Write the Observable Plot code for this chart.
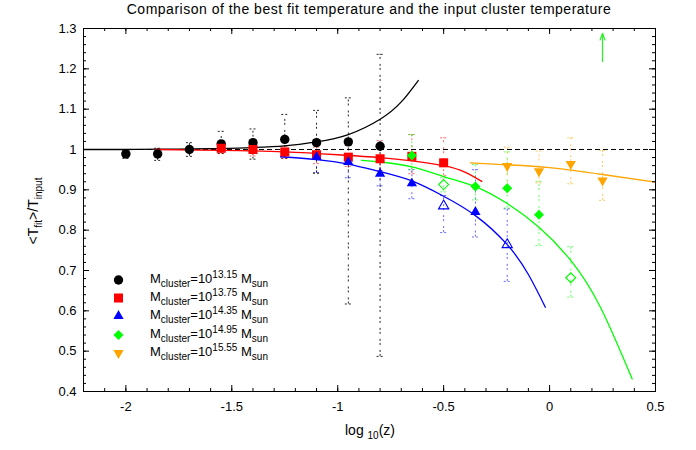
<!DOCTYPE html>
<html><head><meta charset="utf-8">
<script src="https://cdn.jsdelivr.net/npm/d3@7"></script>
<script src="https://cdn.jsdelivr.net/npm/@observablehq/plot@0.6"></script>
<style>
body{margin:0;background:#fff;font-family:"Liberation Sans",Arial,sans-serif;}
#wrap{position:relative;width:696px;height:450px;overflow:hidden;}
#wrap > svg{position:absolute;left:0;top:0;}
.ov{position:absolute;font-size:13px;color:#000;white-space:nowrap;line-height:1;}
.ov sub,.ov sup{font-size:10px;line-height:0;}
.row{position:absolute;left:0;height:14px;}
.row svg{position:absolute;left:0;top:0;}
.row span{position:absolute;top:0;font-size:13px;}
</style></head><body>
<div id="wrap"></div>
<script>
// ---- data ----
const masses = ["13.15", "13.75", "14.35", "14.95", "15.55"];
const colors = ["#000000", "#ff0000", "#0000ff", "#00ff00", "#ffa500"];

// series 0 : M = 10^13.15
const x0 = [-2, -1.85, -1.7, -1.55, -1.4, -1.25, -1.1, -0.95, -0.8];
const y0 = [0.989, 0.989, 1.0, 1.014, 1.017, 1.025, 1.017, 1.019, 1.008];
const lo0 = [0.978, 0.973, 0.983, 0.99, 0.976, 0.978, 0.941, 0.617, 0.487];
const hi0 = [0.998, 1.003, 1.017, 1.045, 1.051, 1.087, 1.097, 1.128, 1.236];
const open0 = [0, 0, 0, 0, 0, 0, 0, 0, 0];
// series 1 : M = 10^13.75
const x1 = [-1.55, -1.4, -1.25, -1.1, -0.95, -0.8, -0.65, -0.5];
const y1 = [1.003, 1.0, 0.994, 0.987, 0.981, 0.977, 0.983, 0.967];
const lo1 = [0.99, 0.984, 0.978, 0.965, 0.958, 0.948, 0.94, 0.935];
const hi1 = [1.015, 1.014, 1.008, 1.006, 1.01, 1.022, 1.037, 1.029];
const open1 = [0, 0, 0, 0, 0, 0, 0, 0];
// series 2 : M = 10^14.35
const x2 = [-1.1, -0.95, -0.8, -0.65, -0.5, -0.35, -0.2];
const y2 = [0.981, 0.969, 0.94, 0.916, 0.86, 0.845, 0.764];
const lo2 = [0.943, 0.93, 0.91, 0.878, 0.794, 0.783, 0.673];
const hi2 = [0.995, 0.99, 0.975, 0.95, 0.886, 0.95, 0.853];
const open2 = [0, 0, 0, 0, 1, 0, 1];
// series 3 : M = 10^14.95
const x3 = [-0.65, -0.5, -0.35, -0.2, -0.05, 0.1];
const y3 = [0.985, 0.913, 0.908, 0.904, 0.838, 0.682];
const lo3 = [0.95, 0.895, 0.875, 0.855, 0.762, 0.634];
const hi3 = [1.037, 0.93, 0.963, 0.994, 0.921, 0.759];
const open3 = [0, 1, 0, 0, 0, 1];
// series 4 : M = 10^15.55
const x4 = [-0.2, -0.05, 0.1, 0.25];
const y4 = [0.959, 0.946, 0.964, 0.923];
const lo4 = [0.907, 0.917, 0.915, 0.874];
const hi4 = [1.006, 0.996, 1.029, 0.998];
const open4 = [0, 0, 0, 0];

// fitted curves
const fitX0 = [-2.2, -2.0, -1.8, -1.6, -1.4, -1.25, -1.1, -0.95, -0.8, -0.7, -0.62];
const fitY0 = [1.0, 1.0, 1.001, 1.002, 1.005, 1.009, 1.019, 1.037, 1.075, 1.118, 1.171];
const fitX1 = [-1.86, -1.55, -1.25, -1.0, -0.8, -0.65, -0.5, -0.4, -0.32];
const fitY1 = [1.0, 0.998, 0.994, 0.987, 0.98, 0.972, 0.96, 0.944, 0.921];
const fitX2 = [-1.27, -1.1, -0.95, -0.8, -0.65, -0.5, -0.35, -0.2, -0.1, -0.02];
const fitY2 = [0.982, 0.975, 0.964, 0.945, 0.922, 0.884, 0.836, 0.764, 0.69, 0.609];
const fitX3 = [-0.887, -0.8, -0.65, -0.5, -0.35, -0.2, -0.05, 0.1, 0.24, 0.39];
const fitY3 = [0.973, 0.969, 0.957, 0.933, 0.908, 0.866, 0.807, 0.725, 0.609, 0.431];
const fitX4 = [-0.374, -0.2, 0, 0.25, 0.5];
const fitY4 = [0.967, 0.962, 0.955, 0.938, 0.919];

// arrow
const arrowX = [0.25];
const arrowFrom = [1.218];
const arrowTo = [1.288];

// axes
const xTicks = [-2, -1.5, -1, -0.5, 0, 0.5];
const yTicks = [0.4, 0.5, 0.6, 0.7, 0.8, 0.9, 1, 1.1, 1.2, 1.3];
const xDomain = [-2.2, 0.5];
const yDomain = [0.4, 1.3];
const refLine = [1];

// ---- build tables ----
const SX = [x0, x1, x2, x3, x4], SY = [y0, y1, y2, y3, y4], SL = [lo0, lo1, lo2, lo3, lo4],
      SH = [hi0, hi1, hi2, hi3, hi4], SO = [open0, open1, open2, open3, open4];
const points = [];
SX.forEach((xs, s) => xs.forEach((x, i) => points.push({s, x, y: SY[s][i], lo: SL[s][i], hi: SH[s][i], open: !!SO[s][i]})));
const FX = [fitX0, fitX1, fitX2, fitX3, fitX4], FY = [fitY0, fitY1, fitY2, fitY3, fitY4];
const fits = [];
FX.forEach((xs, s) => xs.forEach((x, i) => fits.push({s, x, y: FY[s][i]})));
const arrows = arrowX.map((x, i) => ({x, y1: arrowFrom[i], y2: arrowTo[i]}));

const W = 696, H = 450, mL = 83, mR = 41, mT = 28, mB = 59;
const kx = (W - mL - mR) / (xDomain[1] - xDomain[0]);
const ky = (H - mT - mB) / (yDomain[1] - yDomain[0]);
const xMinor = d3.range(Math.round(xDomain[0] * 10), Math.round(xDomain[1] * 10) + 1).map(i => i / 10);
const yMinor = d3.range(Math.round(yDomain[0] * 50), Math.round(yDomain[1] * 50) + 1).map(i => i / 50);

const triDown = {
  draw(ctx, size) {
    const y = -Math.sqrt(size / (Math.sqrt(3) * 3));
    ctx.moveTo(0, -y * 2);
    ctx.lineTo(-Math.sqrt(3) * y, y);
    ctx.lineTo(Math.sqrt(3) * y, y);
    ctx.closePath();
  }
};
const symbols = [d3.symbolCircle, d3.symbolSquare, d3.symbolTriangle, d3.symbolDiamond2, triDown];
const radii = [4.7, 5.1, 3.8, 4.5, 3.8];
const barOpacity = [0.85, 0.6, 0.6, 0.6, 0.6];

const tickMarks = (len, xs, ys) => [
  Plot.ruleX(xs, {x: d => d, y1: yDomain[0], y2: yDomain[0] + len / ky, stroke: "#000"}),
  Plot.ruleX(xs, {x: d => d, y1: yDomain[1], y2: yDomain[1] - len / ky, stroke: "#000"}),
  Plot.ruleY(ys, {y: d => d, x1: xDomain[0], x2: xDomain[0] + len / kx, stroke: "#000"}),
  Plot.ruleY(ys, {y: d => d, x1: xDomain[1], x2: xDomain[1] - len / kx, stroke: "#000"})
];

const capHalf = 3 / kx;
const marks = [];
for (let s = 0; s < 5; s++) {
  const pts = points.filter(d => d.s === s);
  const st = {stroke: colors[s], strokeOpacity: barOpacity[s], strokeWidth: 1};
  marks.push(
    Plot.ruleX(pts, {x: "x", y1: "lo", y2: "hi", ...st, strokeDasharray: "2,2,2,5"}),
    Plot.ruleY(pts, {y: "lo", x1: d => d.x - capHalf, x2: d => d.x + capHalf, ...st, strokeDasharray: "2,2"}),
    Plot.ruleY(pts, {y: "hi", x1: d => d.x - capHalf, x2: d => d.x + capHalf, ...st, strokeDasharray: "2,2"})
  );
}
marks.push(
  Plot.ruleY(refLine, {stroke: "#000", strokeDasharray: "5,3", strokeWidth: 1.2}),
  Plot.line(fits, {x: "x", y: "y", z: "s", stroke: d => colors[d.s], curve: "natural", strokeWidth: 1.3}),
  Plot.arrow(arrows, {x1: "x", x2: "x", y1: "y1", y2: "y2", stroke: "#33ee33", strokeWidth: 1.3, headLength: 8, headAngle: 40})
);
for (let s = 0; s < 5; s++) {
  marks.push(Plot.dot(points.filter(d => d.s === s && !d.open), {x: "x", y: "y", symbol: symbols[s], r: radii[s], fill: colors[s], stroke: "none"}));
  marks.push(Plot.dot(points.filter(d => d.s === s && d.open), {x: "x", y: "y", symbol: symbols[s], r: radii[s], fill: "none", stroke: colors[s], strokeWidth: 1.1}));
}
marks.push(...tickMarks(3, xMinor, yMinor), ...tickMarks(6, xTicks, yTicks));
marks.push(Plot.frame({stroke: "#000", strokeWidth: 1}));
marks.push(Plot.axisX(xTicks, {anchor: "bottom", tickSize: 0, tickPadding: 10, tickFormat: d => String(d), fontSize: 13, label: null}));
marks.push(Plot.axisY(yTicks, {anchor: "left", tickSize: 0, tickPadding: 7, tickFormat: d => String(d), fontSize: 13, label: null}));

const chart = Plot.plot({
  width: W, height: H,
  marginLeft: mL, marginRight: mR, marginTop: mT, marginBottom: mB,
  style: {fontFamily: '"Liberation Sans", Arial, sans-serif', fontSize: "13px", color: "#000", background: "#fff"},
  x: {domain: xDomain},
  y: {domain: yDomain},
  marks
});
const wrap = document.getElementById("wrap");
wrap.appendChild(chart);

// overlays
function ov(html, css) {
  const d = document.createElement("div");
  d.className = "ov";
  d.innerHTML = html;
  Object.assign(d.style, css);
  wrap.appendChild(d);
  return d;
}
const title = ov("Comparison of the best fit temperature and the input cluster temperature", {left: "369px", top: "2px", fontSize: "14px", transform: "translateX(-50%)"});
{
  const w = title.getBoundingClientRect().width;
  const n = title.textContent.length;
  title.style.letterSpacing = Math.max(0, (484 - w) / (n - 1)) + "px";
}
ov("log <sub>10</sub>(z)", {left: "370px", top: "423px", fontSize: "14px", transform: "translateX(-50%)"});
ov("&lt;T<sub>fit</sub>&gt;/T<sub>input</sub>", {left: "33px", top: "211px", fontSize: "14px", transform: "translate(-50%,-50%) rotate(-90deg)"});

// legend
const leg = document.createElement("div");
leg.style.cssText = "position:absolute;left:112px;top:273px;";
wrap.appendChild(leg);
masses.forEach((m, i) => {
  const row = document.createElement("div");
  row.className = "row ov";
  row.style.top = (i * 18.2) + "px";
  const size = Math.PI * radii[i] * radii[i];
  const p = d3.symbol(symbols[i], size)();
  row.innerHTML = `<svg width="14" height="14"><path transform="translate(6.5,7)" d="${p}" fill="${colors[i]}"></path></svg>` +
    `<span style="left:38px;top:-1px">M<sub>cluster</sub>=10<sup>${m}</sup> M<sub>sun</sub></span>`;
  leg.appendChild(row);
});
</script>
</body></html>
